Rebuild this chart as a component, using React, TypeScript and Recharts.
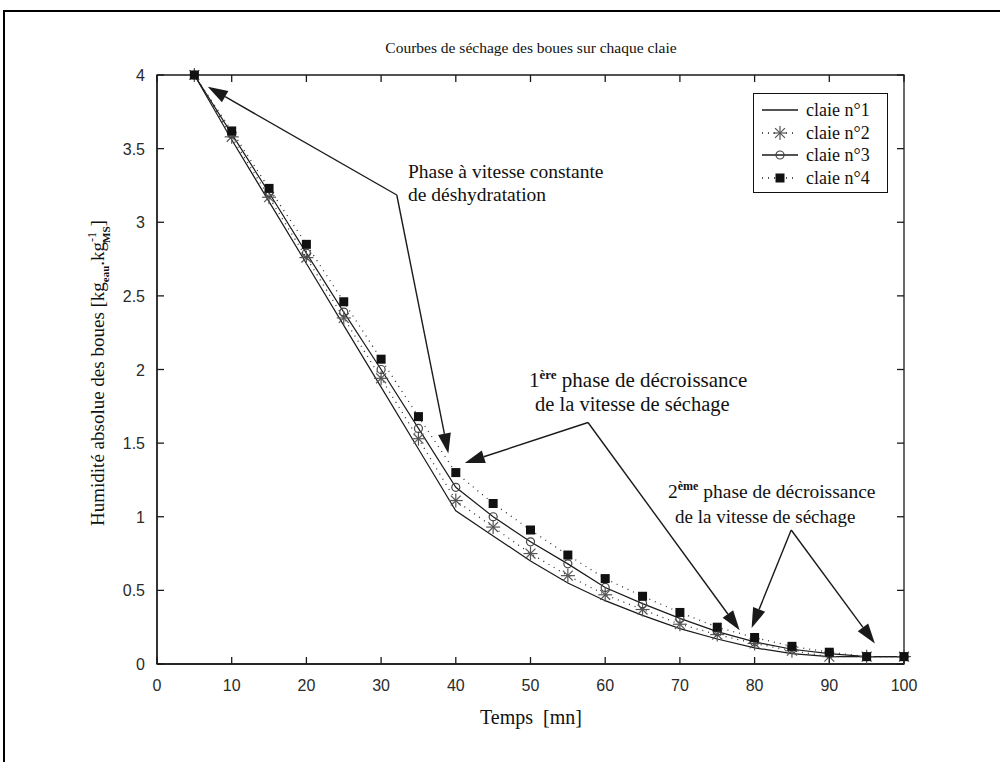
import React from 'react';
import {
  LineChart, Line, XAxis, YAxis, ReferenceArea, ReferenceLine, Legend, Customized,
} from 'recharts';

// ---------- data ----------
const temps = [5, 10, 15, 20, 25, 30, 35, 40, 45, 50, 55, 60, 65, 70, 75, 80, 85, 90, 95, 100];
const claie1 = [4, 3.56, 3.14, 2.72, 2.30, 1.88, 1.46, 1.04, 0.87, 0.70, 0.55, 0.43, 0.33, 0.24, 0.17, 0.11, 0.07, 0.05, 0.05, 0.05];
const claie2 = [4, 3.58, 3.17, 2.76, 2.35, 1.94, 1.53, 1.11, 0.93, 0.75, 0.60, 0.47, 0.37, 0.27, 0.20, 0.14, 0.09, 0.05, 0.05, 0.05];
const claie3 = [4, 3.60, 3.20, 2.79, 2.39, 2.00, 1.60, 1.20, 1.00, 0.83, 0.68, 0.52, 0.41, 0.31, 0.22, 0.15, 0.10, 0.07, 0.05, 0.05];
const claie4 = [4, 3.62, 3.23, 2.85, 2.46, 2.07, 1.68, 1.30, 1.09, 0.91, 0.74, 0.58, 0.46, 0.35, 0.25, 0.18, 0.12, 0.08, 0.05, 0.05];
const seriesNames = ['claie n°1', 'claie n°2', 'claie n°3', 'claie n°4'];
const xTicks = [0, 10, 20, 30, 40, 50, 60, 70, 80, 90, 100];
const yTicks = [0, 0.5, 1, 1.5, 2, 2.5, 3, 3.5, 4];

// annotation arrows (data coordinates): [from, to]
const arrowSegments = [
  [{ x: 32.1, y: 3.185 }, { x: 6.8, y: 3.92 }],
  [{ x: 32.1, y: 3.185 }, { x: 39, y: 1.43 }],
  [{ x: 57.7, y: 1.64 }, { x: 41.2, y: 1.365 }],
  [{ x: 57.7, y: 1.64 }, { x: 78, y: 0.23 }],
  [{ x: 84.9, y: 0.91 }, { x: 79.6, y: 0.245 }],
  [{ x: 84.9, y: 0.91 }, { x: 96.1, y: 0.14 }],
];

const data = temps.map((t, i) => ({ t, c1: claie1[i], c2: claie2[i], c3: claie3[i], c4: claie4[i] }));

// ---------- layout / style ----------
const W = 1000;
const H = 762;
const PLOT_LEFT = 157;
const PLOT_TOP = 75;
const PLOT_W = 747;
const PLOT_H = 589;
const SERIF = '"Liberation Serif", "Times New Roman", serif';
const SANS = '"Liberation Sans", Arial, sans-serif';
const INK = '#1a1a1a';

const XTick = (props: any) => {
  const { x, y, payload } = props;
  return (
    <g>
      <line x1={x} y1={y} x2={x} y2={y - 7} stroke={INK} strokeWidth={1.3} />
      <line x1={x} y1={y - PLOT_H} x2={x} y2={y - PLOT_H + 7} stroke={INK} strokeWidth={1.3} />
      <text x={x} y={y + 27} textAnchor="middle" fontFamily={SANS} fontSize={16} fill="#2a2a2a">
        {payload.value}
      </text>
    </g>
  );
};

const YTick = (props: any) => {
  const { x, y, payload } = props;
  return (
    <g>
      <line x1={x} y1={y} x2={x + 7} y2={y} stroke={INK} strokeWidth={1.3} />
      <line x1={x + PLOT_W} y1={y} x2={x + PLOT_W - 7} y2={y} stroke={INK} strokeWidth={1.3} />
      <text x={x - 12} y={y + 6} textAnchor="end" fontFamily={SANS} fontSize={16} fill="#2a2a2a">
        {payload.value}
      </text>
    </g>
  );
};

const StarMark = ({ cx, cy, r = 7 }: { cx: number; cy: number; r?: number }) => {
  const d = r * Math.SQRT1_2;
  return (
    <g stroke="#555" strokeWidth={1.2}>
      <line x1={cx - r} y1={cy} x2={cx + r} y2={cy} />
      <line x1={cx} y1={cy - r} x2={cx} y2={cy + r} />
      <line x1={cx - d} y1={cy - d} x2={cx + d} y2={cy + d} />
      <line x1={cx - d} y1={cy + d} x2={cx + d} y2={cy - d} />
    </g>
  );
};
const CircleMark = ({ cx, cy }: { cx: number; cy: number }) => (
  <circle cx={cx} cy={cy} r={4} fill="none" stroke="#444" strokeWidth={1.2} />
);
const SquareMark = ({ cx, cy }: { cx: number; cy: number }) => (
  <rect x={cx - 4.5} y={cy - 4.5} width={9} height={9} fill="#111" />
);

const starDot = (p: any) => (p.cx == null ? null : <StarMark key={p.index} cx={p.cx} cy={p.cy} />);
const circleDot = (p: any) => (p.cx == null ? null : <CircleMark key={p.index} cx={p.cx} cy={p.cy} />);
const squareDot = (p: any) => (p.cx == null ? null : <SquareMark key={p.index} cx={p.cx} cy={p.cy} />);

const ArrowShape = (props: any) => {
  const { x1, y1, x2, y2 } = props;
  if ([x1, y1, x2, y2].some((v) => v == null || isNaN(v))) return null;
  const dx = x2 - x1;
  const dy = y2 - y1;
  const len = Math.hypot(dx, dy) || 1;
  const ux = dx / len;
  const uy = dy / len;
  const L = 20;
  const Wd = 6.5;
  const bx = x2 - ux * L;
  const by = y2 - uy * L;
  const px = -uy;
  const py = ux;
  return (
    <g>
      <line x1={x1} y1={y1} x2={bx} y2={by} stroke={INK} strokeWidth={1.4} />
      <polygon
        points={`${x2},${y2} ${bx + px * Wd},${by + py * Wd} ${bx - px * Wd},${by - py * Wd}`}
        fill={INK}
      />
    </g>
  );
};

const legendSymbols = [
  (cx: number, cy: number) => <line x1={8} y1={cy} x2={44} y2={cy} stroke={INK} strokeWidth={1.3} />,
  (cx: number, cy: number) => (
    <g>
      <line x1={8} y1={cy} x2={44} y2={cy} stroke={INK} strokeWidth={1.3} strokeDasharray="1 5" />
      <StarMark cx={cx} cy={cy} r={7} />
    </g>
  ),
  (cx: number, cy: number) => (
    <g>
      <line x1={8} y1={cy} x2={44} y2={cy} stroke={INK} strokeWidth={1.3} />
      <CircleMark cx={cx} cy={cy} />
    </g>
  ),
  (cx: number, cy: number) => (
    <g>
      <line x1={8} y1={cy} x2={44} y2={cy} stroke={INK} strokeWidth={1.3} strokeDasharray="1 5" />
      <SquareMark cx={cx} cy={cy} />
    </g>
  ),
];

const LegendBox = () => (
  <div
    style={{
      border: '1.5px solid #111',
      background: '#fff',
      width: 135,
      height: 100,
      boxSizing: 'border-box',
      paddingTop: 5,
      fontFamily: SERIF,
      fontSize: 18,
      color: '#111',
    }}
  >
    {seriesNames.map((name, i) => (
      <div key={name} style={{ display: 'flex', alignItems: 'center', height: 22.5 }}>
        <svg width={52} height={22} style={{ display: 'block' }}>
          {legendSymbols[i](26, 11)}
        </svg>
        <span style={{ lineHeight: '22px', whiteSpace: 'nowrap' }}>{name}</span>
      </div>
    ))}
  </div>
);

const Sup = ({ children, size }: { children: React.ReactNode; size: number }) => (
  <tspan fontSize={size} fontWeight="bold" dy={-8}>{children}</tspan>
);

const Annotations = () => (
  <g fontFamily={SERIF} fill="#111">
    <text x={531} y={53} textAnchor="middle" fontSize={15.5}>
      Courbes de séchage des boues sur chaque claie
    </text>

    <text x={408} y={178} fontSize={19.5}>Phase à vitesse constante</text>
    <text x={408} y={201} fontSize={19.5}>de déshydratation</text>

    <text x={529} y={387} fontSize={21}>
      1<Sup size={13}>ère</Sup>
      <tspan dy={8}> phase de décroissance</tspan>
    </text>
    <text x={535} y={411} fontSize={20.5}>de la vitesse de séchage</text>

    <text x={668} y={498} fontSize={19.5}>
      2<Sup size={12}>ème</Sup>
      <tspan dy={8}> phase de décroissance</tspan>
    </text>
    <text x={675} y={523} fontSize={19}>de la vitesse de séchage</text>

    <text x={531} y={724} textAnchor="middle" fontSize={20} style={{ whiteSpace: 'pre' }}>
      {'Temps  [mn]'}
    </text>

    <text transform="rotate(-90)" x={-373} y={104} textAnchor="middle" fontSize={19}>
      Humidité absolue des boues [kg
      <tspan fontSize={11} fontWeight="bold" dy={5}>eau</tspan>
      <tspan dy={-5}>.kg</tspan>
      <tspan fontSize={12} dy={-8}>-1</tspan>
      <tspan fontSize={11} dx={-11} dy={14} fontWeight="bold">MS</tspan>
      <tspan dy={-6}>]</tspan>
    </text>
  </g>
);

export default function App() {
  return (
    <div style={{ position: 'absolute', left: 0, top: 0, width: W, height: H, background: '#fff', overflow: 'hidden' }}>
      <div
        style={{
          position: 'absolute',
          left: 3,
          top: 10,
          width: W + 20,
          height: H + 20,
          borderLeft: '2px solid #000',
          borderTop: '2px solid #000',
        }}
      />
      <LineChart
        width={W}
        height={H}
        data={data}
        margin={{ top: PLOT_TOP, right: W - PLOT_LEFT - PLOT_W, bottom: H - PLOT_TOP - PLOT_H - 30, left: PLOT_LEFT - 40 }}
      >
        <XAxis
          dataKey="t"
          type="number"
          domain={[0, 100]}
          ticks={xTicks}
          height={30}
          tickSize={0}
          tickMargin={0}
          tickLine={false}
          tick={<XTick />}
          axisLine={{ stroke: INK, strokeWidth: 1.3 }}
          interval={0}
        />
        <YAxis
          type="number"
          domain={[0, 4]}
          ticks={yTicks}
          width={40}
          tickSize={0}
          tickMargin={0}
          tickLine={false}
          tick={<YTick />}
          axisLine={{ stroke: INK, strokeWidth: 1.3 }}
          interval={0}
        />
        <ReferenceArea x1={0} x2={100} y1={0} y2={4} fill="none" fillOpacity={0} stroke={INK} strokeWidth={1.3} />
        {arrowSegments.map((seg, i) => (
          <ReferenceLine key={i} segment={seg} shape={ArrowShape} ifOverflow="visible" />
        ))}
        <Line dataKey="c1" name={seriesNames[0]} stroke={INK} strokeWidth={1.2} dot={false} isAnimationActive={false} />
        <Line dataKey="c2" name={seriesNames[1]} stroke="#333" strokeWidth={1.3} strokeDasharray="1 5" dot={starDot} isAnimationActive={false} />
        <Line dataKey="c3" name={seriesNames[2]} stroke={INK} strokeWidth={1.2} dot={circleDot} isAnimationActive={false} />
        <Line dataKey="c4" name={seriesNames[3]} stroke="#333" strokeWidth={1.3} strokeDasharray="1 5" dot={squareDot} isAnimationActive={false} />
        <Legend
          layout="horizontal"
          verticalAlign="middle"
          align="center"
          content={() => <LegendBox />}
          wrapperStyle={{ position: 'absolute', left: 753, top: 93, width: 135, height: 100 }}
        />
        <Customized component={<Annotations />} />
      </LineChart>
    </div>
  );
}
